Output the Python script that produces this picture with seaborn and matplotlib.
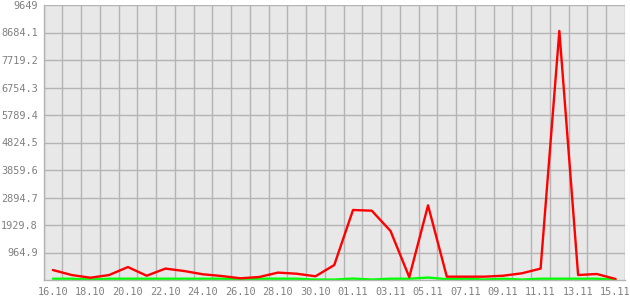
import matplotlib
matplotlib.use("Agg")
import matplotlib.pyplot as plt
import seaborn as sns
import pandas as pd
import numpy as np

dates = ["16.10", "17.10", "18.10", "19.10", "20.10", "21.10", "22.10", "23.10",
         "24.10", "25.10", "26.10", "27.10", "28.10", "29.10", "30.10", "31.10",
         "01.11", "02.11", "03.11", "04.11", "05.11", "06.11", "07.11", "08.11",
         "09.11", "10.11", "11.11", "12.11", "13.11", "14.11", "15.11"]
red_values = [350, 175, 80, 175, 455, 150, 400, 315, 200, 140, 60, 105, 260, 220,
              130, 525, 2456, 2432, 1720, 100, 2620, 117, 117, 117, 150, 235,
              400, 8740, 175, 210, 35]
green_values = [45, 45, 15, 45, 45, 45, 45, 45, 45, 45, 15, 45, 45, 45, 15, 15,
                50, 15, 45, 45, 85, 30, 45, 15, 45, 15, 45, 45, 45, 45, 15]
y_max = 9649
y_tick_labels = ["964.9", "1929.8", "2894.7", "3859.6", "4824.5", "5789.4",
                 "6754.3", "7719.2", "8684.1", "9649"]

sns.set_style("white")
plt.rcParams['font.family'] = ['DejaVu Sans Mono']

n = len(dates)
df = pd.DataFrame({"idx": list(range(n)) * 2,
                   "value": red_values + green_values,
                   "series": ["red"] * n + ["green"] * n})

fig = plt.figure(figsize=(6.3, 3.0), dpi=100)
fig.patch.set_facecolor("white")
ax = fig.add_axes([43.5 / 630, 20 / 300, (625 - 43.5) / 630, 275 / 300])
ax.set_facecolor("#e8e8e8")

sns.lineplot(data=df, x="idx", y="value", hue="series",
             palette={"red": "#ff0000", "green": "#00ff00"},
             hue_order=["green", "red"], linewidth=1.7, legend=False, ax=ax)

ax.set_xlim(-0.5, n - 0.5)
ax.set_ylim(0, y_max)

grid_col = "#b4b4b4"
yticks = [float(t) for t in y_tick_labels]
ax.set_yticks(yticks)
ax.set_yticklabels(y_tick_labels)
ax.set_xticks(list(range(0, n, 2)))
ax.set_xticklabels(dates[::2])
ax.set_xticks([k - 0.5 for k in range(n + 1)], minor=True)

ax.grid(False)
ax.yaxis.grid(True, which="major", color=grid_col, linewidth=1.0)
ax.xaxis.grid(True, which="minor", color=grid_col, linewidth=1.0)
ax.set_axisbelow(True)

ax.tick_params(axis="both", which="major", colors=grid_col, length=3.5,
               width=1.0, labelcolor="#808080", labelsize=7.4, pad=1.5)
ax.tick_params(axis="x", which="minor", length=0)
ax.tick_params(axis="y", pad=0.5)

for side in ["left", "bottom"]:
    ax.spines[side].set_color(grid_col)
    ax.spines[side].set_linewidth(1.0)
for side in ["top", "right"]:
    ax.spines[side].set_visible(False)

ax.set_xlabel("")
ax.set_ylabel("")

fig.savefig("out.png", dpi=100, facecolor="white")
